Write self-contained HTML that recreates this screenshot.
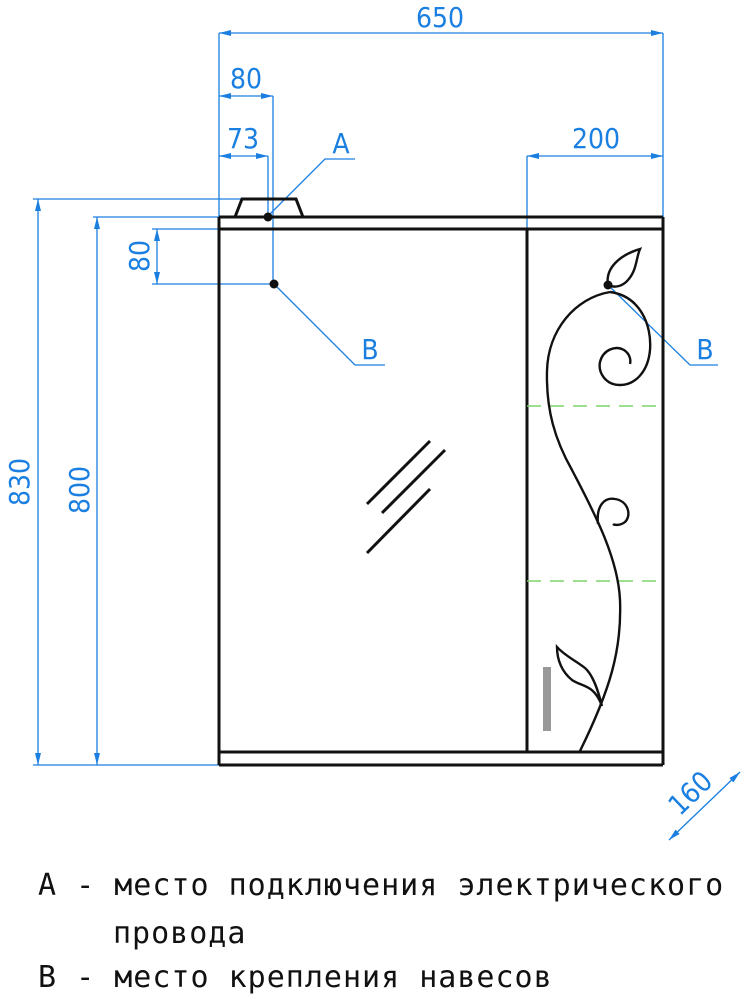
<!DOCTYPE html>
<html><head><meta charset="utf-8"><style>
html,body{margin:0;padding:0;background:#fff;}
svg{display:block;}
.t{font-family:"DejaVu Sans Condensed","Liberation Sans",sans-serif;fill:#1a7fe0;font-size:28px;}
.b{font-family:"DejaVu Sans Mono","Liberation Mono",monospace;fill:#111;font-size:30px;letter-spacing:1px;}
</style></head><body>
<svg width="741" height="1000" viewBox="0 0 741 1000" xmlns="http://www.w3.org/2000/svg">
<defs>
<marker id="ar" viewBox="0 0 12 6" refX="12" refY="3" markerWidth="12" markerHeight="6" orient="auto-start-reverse" markerUnits="userSpaceOnUse"><path d="M0,0 L12,3 L0,6z" fill="#1a7fe0"/></marker>
</defs>
<g stroke="#1a7fe0" stroke-width="1.3" fill="none">
<line x1="219" y1="33" x2="219" y2="217"/>
<line x1="663" y1="33" x2="663" y2="217"/>
<line x1="273" y1="96" x2="273" y2="284"/>
<line x1="268" y1="156" x2="268" y2="216"/>
<line x1="527" y1="156" x2="527" y2="229"/>
<line x1="33" y1="199" x2="242" y2="199"/>
<line x1="33" y1="765" x2="219" y2="765"/>
<line x1="93" y1="217" x2="219" y2="217"/>
<line x1="152" y1="229" x2="219" y2="229"/>
<line x1="152" y1="284" x2="274" y2="284"/>
<line x1="219" y1="33" x2="663" y2="33" marker-start="url(#ar)" marker-end="url(#ar)"/>
<line x1="219" y1="96" x2="273" y2="96" marker-start="url(#ar)" marker-end="url(#ar)"/>
<line x1="219" y1="156" x2="268" y2="156" marker-start="url(#ar)" marker-end="url(#ar)"/>
<line x1="527" y1="156" x2="663" y2="156" marker-start="url(#ar)" marker-end="url(#ar)"/>
<line x1="38" y1="199" x2="38" y2="765" marker-start="url(#ar)" marker-end="url(#ar)"/>
<line x1="97" y1="217" x2="97" y2="765" marker-start="url(#ar)" marker-end="url(#ar)"/>
<line x1="157" y1="229" x2="157" y2="284" marker-start="url(#ar)" marker-end="url(#ar)"/>
<line x1="669" y1="840" x2="740" y2="772" marker-start="url(#ar)" marker-end="url(#ar)"/>
<polyline points="268,216 325,159 355,159"/>
<polyline points="274,284 355,365 385,365"/>
<polyline points="609,286 690,365 718,365"/>
</g>
<text class="t" x="440" y="27" text-anchor="middle">650</text>
<text class="t" x="246" y="88" text-anchor="middle">80</text>
<text class="t" x="243" y="148" text-anchor="middle">73</text>
<text class="t" x="596" y="148" text-anchor="middle">200</text>
<text class="t" x="341" y="153" text-anchor="middle">A</text>
<text class="t" x="370" y="359" text-anchor="middle">B</text>
<text class="t" x="705" y="359" text-anchor="middle">B</text>
<text class="t" transform="translate(29,482) rotate(-90)" text-anchor="middle">830</text>
<text class="t" transform="translate(89,490) rotate(-90)" text-anchor="middle">800</text>
<text class="t" transform="translate(149,256) rotate(-90)" text-anchor="middle">80</text>
<text class="t" transform="translate(697,800) rotate(-44)" text-anchor="middle">160</text>
<g stroke="#111" stroke-width="3" fill="none">
<polyline points="235,217 242,199 296,199 303,217"/>
<line x1="219" y1="217" x2="663" y2="217"/>
<line x1="219" y1="229" x2="663" y2="229"/>
<line x1="219" y1="752" x2="663" y2="752"/>
<line x1="219" y1="765" x2="663" y2="765"/>
<line x1="219" y1="217" x2="219" y2="765"/>
<line x1="663" y1="217" x2="663" y2="765"/>
<line x1="527" y1="229" x2="527" y2="752"/>
<line x1="367" y1="504" x2="430" y2="441"/>
<line x1="382" y1="513" x2="445" y2="450"/>
<line x1="367" y1="553" x2="430" y2="489"/>
</g>
<g stroke="#7fd36a" stroke-width="1.5" stroke-dasharray="14,9">
<line x1="527" y1="406" x2="663" y2="406"/>
<line x1="527" y1="581" x2="663" y2="581"/>
</g>
<rect x="543" y="667" width="8" height="64" fill="#999"/>
<g stroke="#111" stroke-width="2.4" fill="none">
<path d="M610,292 C575,298 548,330 547,371 C546,410 555,440 572,470 C590,505 618,555 620,600 C622,650 610,690 580,751"/>
<path d="M610,292 C640,296 652,325 650,350 C648,372 635,385 620,385 C605,385 598,372 600,362 C603,350 615,345 624,350 C630,354 631,360 630,364"/>
<path d="M598,524 C596,505 605,497 615,499 C628,501 632,515 625,522 C620,526 614,525 613,524"/>
<path d="M608,285 C605,268 620,255 640,249 C636,258 637,270 628,280 C622,287 614,288 608,285"/>
<path d="M602,706 C598,690 593,675 585,668 C575,660 565,656 557,647 C557,660 562,672 572,680 C582,687 594,684 602,706"/>
</g>
<circle cx="268" cy="217" r="4.5" fill="#111"/>
<circle cx="274" cy="284" r="4.5" fill="#111"/>
<circle cx="608" cy="285" r="4.5" fill="#111"/>
<text class="b" x="38" y="895">А - место подключения электрического</text>
<text class="b" x="113" y="943">провода</text>
<text class="b" x="38" y="987">В - место крепления навесов</text>
</svg>
</body></html>
